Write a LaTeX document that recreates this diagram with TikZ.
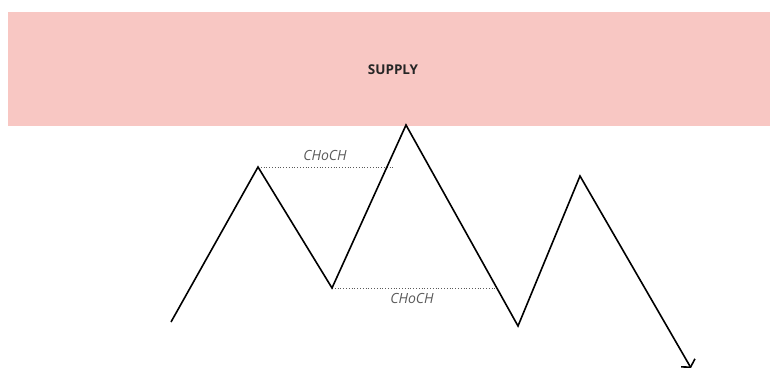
\documentclass[tikz,border=0pt]{standalone}
\usepackage{fontspec}
\setmainfont{Open Sans}
\usetikzlibrary{arrows.meta}
\definecolor{SupplyPink}{RGB}{248, 199, 195}
\definecolor{LabelGrey}{RGB}{90, 90, 90}

\begin{document}
\begin{tikzpicture}[
    x=1pt, y=-1pt,
    zone/.style={fill=SupplyPink, draw=none},
    price/.style={line width=1.6pt, black, line join=miter},
    level/.style={LabelGrey, dotted, line width=0.8pt},
    lbl/.style={font=\itshape\fontsize{14}{16}\selectfont, text=LabelGrey}
]
    \useasboundingbox (0,0) rectangle (770,367);
    \fill[zone] (8,12) rectangle (770,126);
    \node[font=\bfseries\fontsize{13.5}{16}\selectfont, text=black!85] (supply) at (393,70) {SUPPLY};

    % swing points
    \coordinate (p1) at (171,322);
    \coordinate (p2) at (258,167);
    \coordinate (p3) at (332,288);
    \coordinate (p4) at (406,125);
    \coordinate (p5) at (518,326);
    \coordinate (p6) at (580,176);
    \coordinate (p7) at (691,368);
    \coordinate (hi) at (393,167);
    \coordinate (lo) at (496,288);

    \draw[level] (p2) -- (hi);
    \draw[level] (p3) -- (lo);
    \node[lbl] (chochhi) at (325,155) {CHoCH};
    \node[lbl] (chochlo) at (412,298) {CHoCH};

    \draw[price, -{Straight Barb[length=5pt, width=16pt]}] (p1) -- (p2) -- (p3) -- (p4) -- (p5) -- (p6) -- (p7);
\end{tikzpicture}
\end{document}
